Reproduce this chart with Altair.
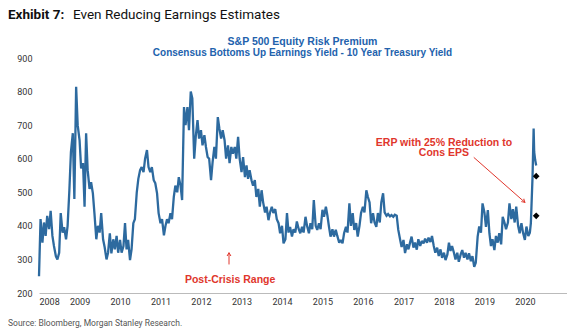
import altair as alt
import pandas as pd

# ---- data (semi-monthly readings, 1st and 15th of each month) ----
erp_2008 = [250, 420, 350, 410, 370, 430, 390, 445, 370, 340, 310, 300, 320, 438, 380, 396, 360, 400, 506, 620, 676, 480, 814, 700]
erp_2009 = [655, 571, 587, 457, 676, 566, 510, 530, 497, 438, 360, 400, 380, 438, 360, 337, 300, 320, 378, 318, 360, 330, 370, 320]
erp_2010 = [358, 320, 340, 408, 330, 358, 298, 330, 408, 420, 500, 540, 566, 575, 560, 600, 626, 575, 560, 575, 536, 527, 497, 438]
erp_2011 = [408, 420, 372, 400, 420, 408, 438, 420, 486, 520, 500, 545, 520, 477, 754, 700, 754, 685, 800, 780, 600, 666, 715, 660]
erp_2012 = [685, 640, 670, 635, 605, 600, 536, 590, 635, 600, 724, 690, 660, 685, 655, 600, 640, 587, 635, 615, 635, 600, 665, 600]
erp_2013 = [560, 605, 545, 580, 540, 566, 536, 520, 536, 486, 510, 457, 506, 470, 440, 457, 417, 440, 457, 438, 450, 420, 408, 378]
erp_2014 = [400, 348, 360, 438, 380, 397, 368, 390, 380, 413, 390, 378, 397, 380, 427, 400, 378, 408, 390, 477, 400, 388, 408, 390]
erp_2015 = [448, 427, 457, 430, 397, 368, 390, 368, 388, 370, 350, 358, 348, 378, 397, 380, 467, 400, 438, 388, 408, 368, 400, 438]
erp_2016 = [457, 440, 506, 486, 470, 408, 438, 410, 397, 438, 410, 470, 497, 440, 430, 435, 428, 432, 427, 433, 430, 388, 360, 337]
erp_2017 = [358, 319, 345, 330, 350, 368, 335, 350, 329, 360, 340, 355, 348, 362, 350, 365, 352, 370, 340, 320, 335, 310, 330, 305]
erp_2018 = [320, 298, 315, 350, 325, 340, 320, 300, 320, 293, 315, 328, 305, 320, 300, 318, 295, 310, 278, 290, 368, 398, 380, 467]
erp_2019 = [440, 397, 447, 378, 340, 360, 328, 370, 350, 378, 345, 427, 410, 390, 410, 467, 420, 450, 410, 457, 400, 378, 408, 380]
dates_2020 = ["2020-01-01", "2020-01-15", "2020-02-01", "2020-02-15", "2020-02-24",
              "2020-03-10", "2020-03-20", "2020-03-25", "2020-04-03", "2020-04-12"]
erp_2020 = [358, 398, 370, 380, 408, 545, 690, 620, 596, 580]

years = list(range(2008, 2020))
year_values = [erp_2008, erp_2009, erp_2010, erp_2011, erp_2012, erp_2013, erp_2014,
               erp_2015, erp_2016, erp_2017, erp_2018, erp_2019]

diamond_dates = ["2020-04-12", "2020-04-12"]
diamond_values = [548, 430]

tick_years = list(range(2008, 2021))
y_ticks = [200, 300, 400, 500, 600, 700, 800, 900]

title_bold = "Exhibit 7:"
title_rest = "Even Reducing Earnings Estimates"
sub1 = "S&P 500 Equity Risk Premium"
sub2 = "Consensus Bottoms Up Earnings Yield - 10 Year Treasury Yield"
source = "Source: Bloomberg, Morgan Stanley Research."

# ---- build table ----
rows = []
for y, vals in zip(years, year_values):
    ds = pd.date_range(f"{y}-01-01", periods=24, freq="SMS")
    for d, v in zip(ds, vals):
        rows.append({"date": d.strftime("%Y-%m-%d"), "erp": v})
for d, v in zip(dates_2020, erp_2020):
    rows.append({"date": d, "erp": v})
df = pd.DataFrame(rows)

BLUE = "#2d6a9f"
RED = "#e0362c"
SUB = "#2262ad"

xscale = alt.Scale(domain=["2008-01-01", "2021-01-15"])
yscale = alt.Scale(domain=[200, 900])

xaxis = alt.Axis(format="%Y", values=[alt.DateTime(year=y, month=1, date=1) for y in tick_years],
                 ticks=False, grid=False, domainColor="#bbbbbb", domainWidth=1,
                 labelFont="Roboto", labelFontSize=9, labelColor="#333333",
                 labelPadding=4, title=None, labelOverlap=False)
yaxis = alt.Axis(values=y_ticks, ticks=False, grid=False, domain=False,
                 labelFont="Roboto", labelFontSize=9, labelColor="#333333",
                 labelPadding=7, title=None, labelOverlap=False, labelBound=False)


def X(field):
    return alt.X(field, scale=xscale, axis=xaxis)


def Y(field):
    return alt.Y(field, scale=yscale, axis=yaxis)


line = alt.Chart(df).mark_line(color=BLUE, strokeWidth=2.3, strokeJoin="miter", strokeMiterLimit=2).encode(
    x=X("date:T"), y=Y("erp:Q"),
)

diam = alt.Chart(pd.DataFrame({"date": diamond_dates, "erp": diamond_values})).mark_point(
    shape="diamond", filled=True, color="black", size=45, opacity=1
).encode(x=X("date:T"), y=Y("erp:Q"))

# annotations
ann_text = pd.DataFrame({
    "date": ["2018-01-01", "2018-01-01", "2012-09-20"],
    "erp": [648, 616, 238],
    "t": ["ERP with 25% Reduction to", "Cons EPS", "Post-Crisis Range"],
})
texts = alt.Chart(ann_text).mark_text(
    color=RED, font="Liberation Sans", fontWeight="bold", fontSize=10.5, align="center", baseline="middle"
).encode(x=X("date:T"), y=Y("erp:Q"), text="t:N")

arrows = pd.DataFrame({
    "d1": ["2018-09-27", "2012-09-10"],
    "d2": ["2020-01-01", "2012-09-10"],
    "v1": [604, 285],
    "v2": [470, 320],
})
arrow_lines = alt.Chart(arrows).mark_rule(color=RED, strokeWidth=1).encode(
    x=X("d1:T"), x2="d2:T", y=Y("v1:Q"), y2="v2:Q",
)
heads = pd.DataFrame({"d": ["2020-01-01", "2012-09-10"], "v": [470, 320], "ang": [131.4, 0]})
arrow_heads = alt.Chart(heads).mark_point(
    shape="M -0.7 1.2 L 0 0 L 0.7 1.2", filled=False, color=RED, strokeWidth=1, size=30, opacity=1
).encode(x=X("d:T"), y=Y("v:Q"), angle=alt.Angle("ang:Q", scale=None))

one = pd.DataFrame({"a": [0]})
t1 = alt.Chart(one).mark_text(text=title_bold, font="Roboto", fontWeight="bold", fontSize=13.5,
                              align="left", baseline="alphabetic", color="#111111").encode(
    x=alt.value(-31), y=alt.value(-39))
t2 = alt.Chart(one).mark_text(text=title_rest, font="Roboto", fontSize=13.5,
                              align="left", baseline="alphabetic", color="#111111").encode(
    x=alt.value(34), y=alt.value(-39))
s1 = alt.Chart(one).mark_text(text=sub1, font="Liberation Sans", fontWeight="bold", fontSize=10.5,
                              align="center", baseline="alphabetic", color=SUB).encode(
    x=alt.value(263.5), y=alt.value(-13))
s2 = alt.Chart(one).mark_text(text=sub2, font="Liberation Sans", fontWeight="bold", fontSize=10,
                              align="center", baseline="alphabetic", color=SUB).encode(
    x=alt.value(263.5), y=alt.value(-2.5))
src = alt.Chart(one).mark_text(text=source, font="Roboto", fontSize=8.5,
                               align="left", baseline="alphabetic", color="#555555").encode(
    x=alt.value(-31), y=alt.value(268))

chart = alt.layer(line, diam, arrow_lines, arrow_heads, texts, t1, t2, s1, s2, src).properties(
    width=528, height=235,
    padding={"left": 39, "top": 58, "right": 0, "bottom": 39},
    autosize=alt.AutoSizeParams(type="none"),
    background="white",
).configure_view(stroke=None)

chart.save("out.html", embed_options={"renderer": "svg", "actions": False})
